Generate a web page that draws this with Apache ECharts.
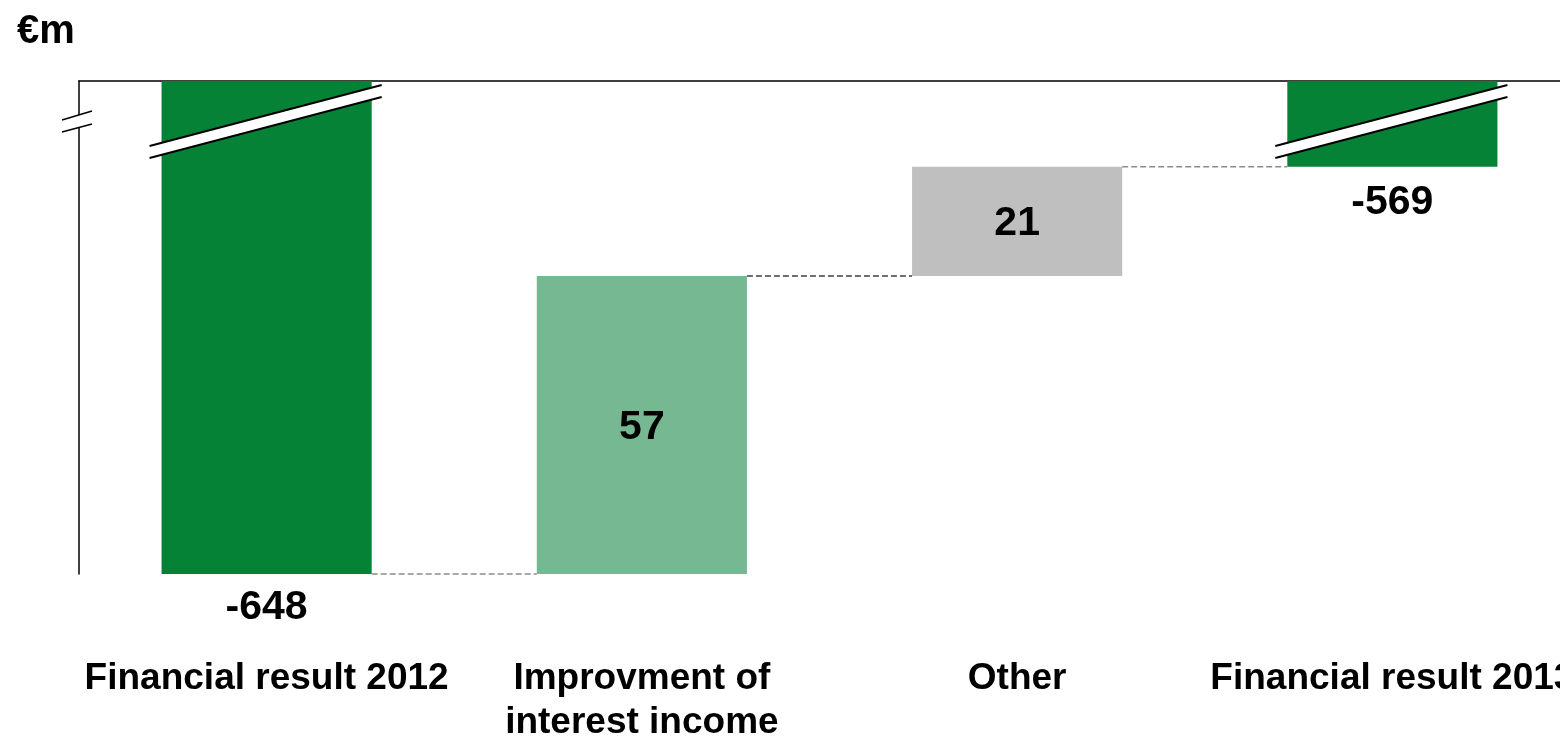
<!DOCTYPE html>
<html>
<head>
<meta charset="utf-8">
<script src="https://cdn.jsdelivr.net/npm/echarts@6/dist/echarts.min.js"></script>
<style>
  html, body { margin: 0; padding: 0; background: #fff; }
  #chart { width: 1560px; height: 736px; }
</style>
</head>
<body>
<div id="chart"></div>
<script>
// ---- data (€m) ----
const categories = ['Financial result 2012', 'Improvment of\ninterest income', 'Other', 'Financial result 2013'];
const startValue = -647.6;          // shown as -648
const changeValues = [57.3, 21.0];  // improvement of interest income, other
const endValue = -569.3;            // shown as -569
const unitLabel = '€m';

// ---- derived waterfall pieces ----
const levels = [startValue];
changeValues.forEach(function (d) { levels.push(levels[levels.length - 1] + d); });
// floating base (transparent) for change bars
const baseData = ['-'].concat(levels.slice(1), ['-']);
const COLORS = { total: '#058236', up: '#76B892', other: '#BFBFBF' };
const FONT = '"Liberation Sans", Arial, sans-serif';

const visibleData = [
  { value: startValue, itemStyle: { color: COLORS.total },
    label: { position: 'bottom', distance: 13 } },
  { value: -changeValues[0], itemStyle: { color: COLORS.up },
    label: { position: 'inside', offset: [0, 3] } },
  { value: -changeValues[1], itemStyle: { color: COLORS.other },
    label: { position: 'inside', offset: [0, 2] } },
  { value: endValue, itemStyle: { color: COLORS.total },
    label: { position: 'bottom', distance: 15 } }
];

const BAR_RATIO = 0.56;

const chart = echarts.init(document.getElementById('chart'), null, { renderer: 'canvas' });

const option = {
  animation: false,
  backgroundColor: '#ffffff',
  title: {
    text: unitLabel,
    left: 12, top: 7,
    textStyle: { fontFamily: FONT, fontWeight: 'bold', fontSize: 40, color: '#000' }
  },
  grid: { left: 79, top: 81, width: 1501, bottom: 162, containLabel: false, outerBoundsMode: 'none' },
  xAxis: [{
    type: 'category',
    data: categories,
    axisLine: { show: false },
    axisTick: { show: false },
    axisLabel: {
      interval: 0, margin: 83,
      fontFamily: FONT, fontWeight: 'bold', fontSize: 37, lineHeight: 44, color: '#000'
    }
  }, {
    type: 'category',
    data: categories,
    position: 'top',
    axisLine: { show: true, lineStyle: { color: '#000', width: 1.5 } },
    axisTick: { show: false },
    axisLabel: { show: false }
  }],
  yAxis: {
    type: 'value',
    min: -647.6,
    max: -552.8,
    axisLine: { show: true, lineStyle: { color: '#000', width: 1.5 } },
    axisTick: { show: false },
    axisLabel: { show: false },
    splitLine: { show: false }
  },
  series: [
    {
      name: 'base', type: 'bar', stack: 'wf', barWidth: (BAR_RATIO * 100) + '%',
      silent: true,
      itemStyle: { color: 'transparent' },
      data: baseData
    },
    {
      name: 'value', type: 'bar', stack: 'wf', barWidth: (BAR_RATIO * 100) + '%',
      data: visibleData,
      label: {
        show: true,
        fontFamily: FONT, fontWeight: 'bold', fontSize: 41, color: '#000',
        formatter: function (p) {
          const v = p.data.value;
          if (p.dataIndex === 0 || p.dataIndex === categories.length - 1) return String(Math.round(v));
          return String(Math.round(Math.abs(v)));
        }
      }
    },
    {
      // dashed connectors between bars
      name: 'connectors', type: 'custom', silent: true, z: 5,
      data: levels.map(function (lv, i) { return [i, lv]; }),
      renderItem: function (params, api) {
        const i = api.value(0);
        const lv = api.value(1);
        const half = api.size([1, 0])[0] * BAR_RATIO / 2;
        const p1 = api.coord([i, lv]);
        const p2 = api.coord([i + 1, lv]);
        return {
          type: 'line',
          shape: { x1: p1[0] + half, y1: p1[1], x2: p2[0] - half, y2: p1[1] },
          style: { stroke: i === 1 ? '#404040' : '#8c8c8c', lineWidth: 1.5, lineDash: [6, 3] }
        };
      }
    },
    {
      // break marks on the total bars and on the value axis
      name: 'breaks', type: 'custom', silent: true, z: 10,
      data: [[0, startValue], [categories.length - 1, endValue]],
      renderItem: function (params, api) {
        const i = api.value(0);
        const cs = params.coordSys;
        const top = cs.y;
        const half = api.size([1, 0])[0] * BAR_RATIO / 2;
        const cx = api.coord([i, api.value(1)])[0];
        const xl = cx - half - 12, xr = cx + half + 10;
        const children = [
          { type: 'polygon', shape: { points: [[xl, top + 65], [xr, top + 4], [xr, top + 16], [xl, top + 77]] },
            style: { fill: '#fff' } },
          { type: 'line', shape: { x1: xl, y1: top + 65, x2: xr, y2: top + 4 },
            style: { stroke: '#000', lineWidth: 2 } },
          { type: 'line', shape: { x1: xl, y1: top + 77, x2: xr, y2: top + 16 },
            style: { stroke: '#000', lineWidth: 2 } }
        ];
        if (i === 0) {
          const ax = cs.x;
          children.push(
            { type: 'polygon', shape: { points: [[ax - 17, top + 39], [ax + 13, top + 30], [ax + 13, top + 43], [ax - 17, top + 51]] },
              style: { fill: '#fff' } },
            { type: 'line', shape: { x1: ax - 17, y1: top + 39, x2: ax + 13, y2: top + 30 },
              style: { stroke: '#000', lineWidth: 1.5 } },
            { type: 'line', shape: { x1: ax - 17, y1: top + 51, x2: ax + 13, y2: top + 43 },
              style: { stroke: '#000', lineWidth: 1.5 } }
          );
        }
        return { type: 'group', children: children };
      }
    }
  ]
};

chart.setOption(option);
</script>
</body>
</html>
